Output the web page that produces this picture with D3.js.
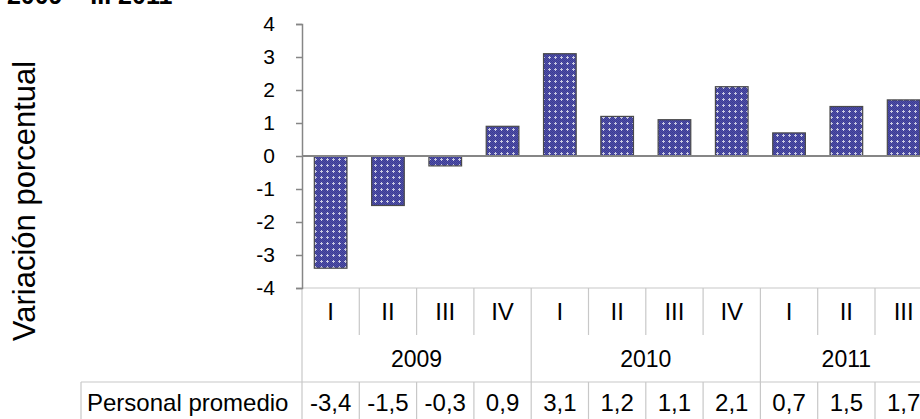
<!DOCTYPE html>
<html><head><meta charset="utf-8">
<script src="https://cdn.jsdelivr.net/npm/d3@7/dist/d3.min.js"></script>
<style>html,body{margin:0;padding:0;background:#fff;overflow:hidden}svg{display:block;font-family:"Liberation Sans",Arial,sans-serif}</style>
</head><body>
<svg id="c" width="920" height="419"></svg>
<script>
const quarters = ["I","II","III","IV","I","II","III","IV","I","II","III"];
const years = ["2009","2010","2011"];
const yearQuarterCounts = [4,4,3];
const values = [-3.4,-1.5,-0.3,0.9,3.1,1.2,1.1,2.1,0.7,1.5,1.7];
const yTicks = [-4,-3,-2,-1,0,1,2,3,4];
const rowLabel = "Personal promedio";
const yTitle = "Variación porcentual";
const title = "I 2009 – III 2011";

const svg = d3.select("#c");
const left = 302, step = 57.3;
const x = d3.scaleBand().domain(d3.range(values.length))
  .range([left, left + step*values.length]).paddingInner(0.43).paddingOuter(0.215);
const y = d3.scaleLinear().domain([-4,4]).range([288,24]);
const fmtVal = d => d3.format(".1f")(d).replace("\u2212","-").replace(".",",");
const fmtTick = d => d3.format("d")(d).replace("\u2212","-");

// pattern
const defs = svg.append("defs");
const pat = defs.append("pattern").attr("id","dots").attr("patternUnits","userSpaceOnUse")
  .attr("width",6).attr("height",6);
pat.append("rect").attr("width",6).attr("height",6).attr("fill","#5252a2");
[[0,0],[2,0],[4,0],[1,1],[3,1],[5,1],[0,2],[2,2],[4,2],[1,3],[5,3],[0,4],[2,4],[4,4],[1,5],[3,5],[5,5]].forEach(([a,b])=>{
  pat.append("rect").attr("x",a).attr("y",b).attr("width",1).attr("height",1).attr("fill",(a+b)%2? "#8686b8":"#3a3a9a");
});
pat.append("rect").attr("x",3).attr("y",2).attr("width",1).attr("height",3).attr("fill","#c8c8e0");
pat.append("rect").attr("x",2).attr("y",3).attr("width",3).attr("height",1).attr("fill","#c8c8e0");

// title (cut at top, as in reference)
svg.append("text").attr("x",-7).attr("y",4).attr("font-size",25).attr("font-weight","bold").attr("fill","#000").text(title);

// y title
svg.append("text").attr("transform","translate(35,201) rotate(-90)").attr("text-anchor","middle")
  .attr("font-size",31).attr("fill","#000").text(yTitle);

// table / category grid
const gridC = "#c8c8c8";
const xEnd = left + step*values.length;
const g = svg.append("g").attr("stroke",gridC).attr("stroke-width",1.2);
g.append("line").attr("x1",left).attr("x2",xEnd).attr("y1",288).attr("y2",288);
g.append("line").attr("x1",81).attr("x2",xEnd).attr("y1",382).attr("y2",382);
g.append("line").attr("x1",81).attr("x2",81).attr("y1",382).attr("y2",419);
const bounds = d3.range(values.length+1).map(i => x.range()[0] + i*x.step());
let yb = [0]; yearQuarterCounts.forEach((c,i)=>yb.push(yb[i]+c));
bounds.forEach((bx,i)=>{
  if (yb.includes(i)) g.append("line").attr("x1",bx).attr("x2",bx).attr("y1",288).attr("y2",419);
  else {
    g.append("line").attr("x1",bx).attr("x2",bx).attr("y1",288).attr("y2",335);
    g.append("line").attr("x1",bx).attr("x2",bx).attr("y1",382).attr("y2",419);
  }
});

// quarter labels
svg.append("g").selectAll("text").data(quarters).join("text")
  .attr("x",(d,i)=>x(i)+x.bandwidth()/2).attr("y",320).attr("text-anchor","middle")
  .attr("font-size",24).attr("fill","#000").text(d=>d);
// year labels
svg.append("g").selectAll("text").data(years).join("text")
  .attr("x",(d,i)=>(bounds[yb[i]]+bounds[yb[i+1]])/2).attr("y",367).attr("text-anchor","middle")
  .attr("font-size",23).attr("fill","#000").text(d=>d);
// row label & values
svg.append("text").attr("x",87).attr("y",411).attr("font-size",24).attr("fill","#000").text(rowLabel);
svg.append("g").selectAll("text").data(values).join("text")
  .attr("x",(d,i)=>x(i)+x.bandwidth()/2).attr("y",411).attr("text-anchor","middle")
  .attr("font-size",24).attr("fill","#000").text(fmtVal);

// bars
svg.append("g").selectAll("rect").data(values).join("rect")
  .attr("x",(d,i)=>x(i)).attr("width",x.bandwidth())
  .attr("y",d=>y(Math.max(0,d))).attr("height",d=>Math.abs(y(d)-y(0)))
  .attr("fill","url(#dots)").attr("stroke","#4a4a4a").attr("stroke-width",1.2);

// zero line
svg.append("line").attr("x1",left).attr("x2",920).attr("y1",y(0)).attr("y2",y(0))
  .attr("stroke","#868686").attr("stroke-width",2);

// y axis
const ax = svg.append("g").attr("transform",`translate(${left},0)`)
  .call(d3.axisLeft(y).tickValues(yTicks).tickSize(6).tickPadding(21).tickFormat(fmtTick));
ax.select(".domain").attr("stroke","#868686").attr("stroke-width",1.5);
ax.selectAll(".tick line").attr("stroke","#868686").attr("stroke-width",1.5);
ax.selectAll(".tick text").attr("font-size",21).attr("font-family","Liberation Sans, Arial, sans-serif").attr("fill","#000");
</script>
</body></html>
